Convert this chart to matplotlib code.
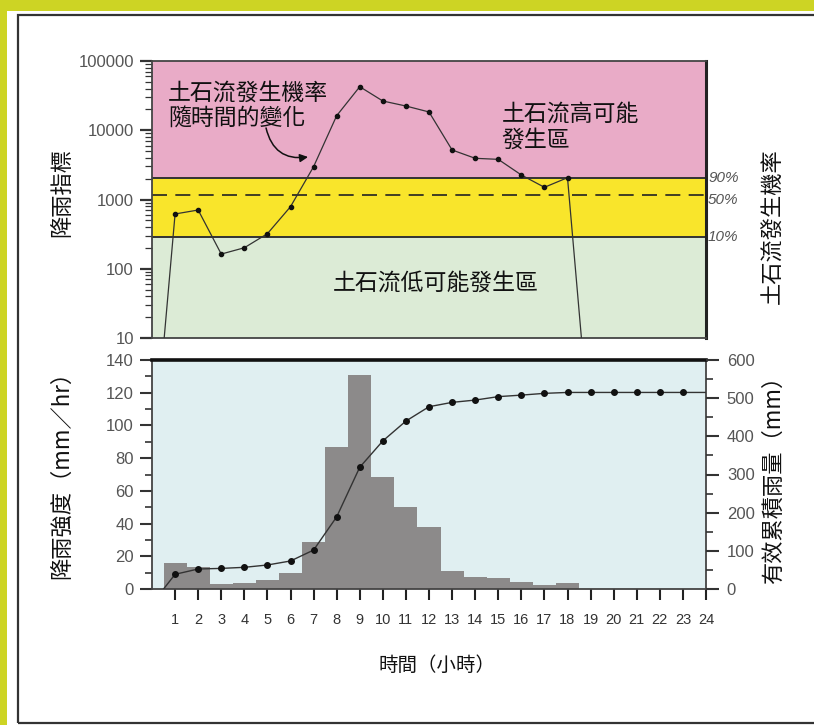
import matplotlib
matplotlib.use("Agg")
import matplotlib.pyplot as plt
import matplotlib.patches as mpatches
import matplotlib.transforms as mtransforms
from matplotlib.ticker import FixedLocator, NullFormatter, LogLocator

CJK = ["Noto Sans CJK TC", "DejaVu Sans"]
NUM = ["Liberation Sans", "DejaVu Sans"]
plt.rcParams["font.family"] = CJK
CJK_WEIGHT = "medium"

# ---- data ----
hours = list(range(1, 25))
hour_labels = [str(h) for h in hours]

# rainfall index (log scale), hourly
index_hours = [0, 1, 2, 3, 4, 5, 6, 7, 8, 9, 10, 11, 12, 13, 14, 15, 16, 17, 18, 19]
index_values = [0.1, 618, 705, 163, 201, 321, 787, 2978, 16220, 42550, 26430,
                22380, 18370, 5190, 3935, 3800, 2260, 1500, 2065, 0.3]

# probability thresholds of the rainfall index
band_90 = 2050
band_50 = 1160
band_10 = 290
band_labels = ["90%", "50%", "10%"]

# hourly rainfall intensity (mm/hr)
intensity = [16, 13.5, 3, 3.5, 5.5, 10, 28.7, 86.6, 130.6, 68.7, 50.3, 37.7,
             11, 7.3, 6.9, 4.5, 2.4, 3.9, 0, 0, 0, 0, 0, 0]

# effective accumulated rainfall (mm)
cum_hours = [0.5] + hours
cum_rain = [0, 38.5, 52.4, 54, 56.8, 62.9, 73.4, 102, 189, 319, 388, 440, 477.6,
            489, 495, 504, 508, 512.6, 515, 515, 515, 515, 515, 515, 515]

# ---- figure and frame ----
W, H = 814, 725
fig = plt.figure(figsize=(W / 100, H / 100), dpi=100)
fig.patch.set_facecolor("#cdd424")
fig.patches.append(mpatches.Rectangle((7 / W, 0), 1, (H - 11) / H,
                                      transform=fig.transFigure,
                                      facecolor="white", edgecolor="none", zorder=-3))
fig.patches.append(mpatches.Rectangle((18 / W, 2 / H), 1, (723 - 15) / H,
                                      transform=fig.transFigure, facecolor="none",
                                      edgecolor="#333333", lw=1.6, zorder=-2))


def px_axes(left, top, right, bottom):
    return fig.add_axes([left / W, 1 - bottom / H, (right - left) / W, (bottom - top) / H])


tick_color = "#555555"
ink = "#111111"

# ---- top panel: rainfall index ----
ax1 = px_axes(152, 61, 706, 338)
ax1.set_yscale("log")
ax1.set_xlim(0, 24)
ax1.set_ylim(10, 100000)
ax1.axhspan(band_90, 100000, color="#e9abc7", zorder=0)
ax1.axhspan(band_10, band_90, color="#f9e52b", zorder=0)
ax1.axhspan(10, band_10, color="#dcebd6", zorder=0)
ax1.axhline(band_90, color="#333333", lw=1.4, zorder=1)
ax1.axhline(band_10, color="#333333", lw=1.4, zorder=1)
ax1.axhline(band_50, color="#222222", lw=1.2, ls=(0, (9, 5)), zorder=1)

ax1.plot(index_hours, index_values, color="#333333", lw=0.9, zorder=3,
         marker="o", ms=3, mfc=ink, mec=ink,
         markevery=list(range(1, len(index_hours) - 1)))

ax1.set_xticks([])
ax1.yaxis.set_major_locator(FixedLocator([10, 100, 1000, 10000, 100000]))
ax1.yaxis.set_minor_locator(LogLocator(base=10, subs=range(2, 10)))
ax1.yaxis.set_minor_formatter(NullFormatter())
ax1.set_yticklabels(["10", "100", "1000", "10000", "100000"])
ax1.tick_params(axis="y", which="major", length=9, width=1.6, color="#333333",
                labelsize=12, labelcolor=tick_color, pad=4)
ax1.tick_params(axis="y", which="minor", length=5, width=0.9, color="#333333")
for lab in ax1.get_yticklabels():
    lab.set_fontfamily(NUM)
for s in ["left", "bottom", "top"]:
    ax1.spines[s].set_color("#444444")
    ax1.spines[s].set_linewidth(1.3)
ax1.spines["right"].set_color("#222222")
ax1.spines["right"].set_linewidth(2.2)

ax1.set_ylabel("降雨指標", fontsize=16, color=ink, weight=CJK_WEIGHT)
ax1.yaxis.set_label_coords(-0.142, 0.527)

ax1.text(0.029, 0.8375, "土石流發生機率\n隨時間的變化", transform=ax1.transAxes,
         fontsize=16.5, ha="left", va="center", linespacing=1.15, color=ink,
         weight=CJK_WEIGHT)
ax1.text(0.631, 0.7606, "土石流高可能\n發生區", transform=ax1.transAxes,
         fontsize=16.5, ha="left", va="center", linespacing=1.15, color=ink,
         weight=CJK_WEIGHT)
ax1.text(0.326, 0.1986, "土石流低可能發生區", transform=ax1.transAxes,
         fontsize=16.5, ha="left", va="center", color=ink, weight=CJK_WEIGHT)
ax1.annotate("", xy=(6.76, 4110), xytext=(4.94, 10790),
             arrowprops=dict(arrowstyle="-|>", color=ink, lw=1.1,
                             connectionstyle="arc3,rad=0.45",
                             mutation_scale=12, shrinkA=0, shrinkB=0))

blend = mtransforms.blended_transform_factory(ax1.transAxes, ax1.transData)
for lab, yv, dy in zip(band_labels, [band_90, band_50, band_10], [0, -5, 0]):
    off = mtransforms.offset_copy(blend, fig=fig, x=2, y=dy, units="dots")
    ax1.text(1.0, yv, lab, transform=off, fontsize=11, style="italic",
             family=NUM, color="#555555", ha="left", va="center")
ax1.text(1.12, 0.405, "土石流發生機率", transform=ax1.transAxes, rotation=90,
         fontsize=16, ha="center", va="center", color=ink, weight=CJK_WEIGHT)

# ---- bottom panel: rainfall intensity and accumulated rainfall ----
ax2 = px_axes(152, 360, 706, 589)
ax2.set_facecolor("#e0eff1")
ax2.bar(hours, intensity, width=1.0, color="#8c8a8a", edgecolor="none", zorder=2)
ax2.set_xlim(0, 24)
ax2.set_ylim(0, 140)
ax2.set_xticks(hours)
ax2.set_xticklabels(hour_labels)
ax2.set_yticks(range(0, 141, 20))
ax2.set_yticks(range(10, 141, 20), minor=True)
ax2.tick_params(axis="x", length=8, width=1.5, color="#222222", labelsize=10.5,
                labelcolor="#333333", pad=9)
ax2.tick_params(axis="y", which="major", length=9, width=1.5, color="#333333",
                labelsize=12, labelcolor=tick_color, pad=4)
ax2.tick_params(axis="y", which="minor", length=5, width=1.2, color="#333333")
for lab in ax2.get_xticklabels() + ax2.get_yticklabels():
    lab.set_fontfamily(NUM)
for s in ["left", "bottom", "right"]:
    ax2.spines[s].set_color("#444444")
    ax2.spines[s].set_linewidth(1.3)
ax2.spines["top"].set_color(ink)
ax2.spines["top"].set_linewidth(2.6)
ax2.set_ylabel("降雨強度（mm／hr）", fontsize=16, color=ink, weight=CJK_WEIGHT)
ax2.yaxis.set_label_coords(-0.142, 0.52)
ax2.set_xlabel("時間（小時）", fontsize=14, color=ink, weight=CJK_WEIGHT)
ax2.xaxis.set_label_coords(0.514, -0.29)

ax3 = ax2.twinx()
ax3.plot(cum_hours, cum_rain, color="#333333", lw=1.0, zorder=3,
         marker="o", ms=4, mfc=ink, mec=ink,
         markevery=list(range(1, len(cum_hours) - 1)))
ax3.set_ylim(0, 600)
ax3.set_yticks(range(0, 601, 100))
ax3.set_yticks(range(50, 601, 100), minor=True)
ax3.tick_params(axis="y", which="major", length=9, width=1.5, color="#333333",
                labelsize=12, labelcolor=tick_color, pad=6)
ax3.tick_params(axis="y", which="minor", length=5, width=1.2, color="#333333")
for lab in ax3.get_yticklabels():
    lab.set_fontfamily(NUM)
for s in ax3.spines.values():
    s.set_visible(False)
ax3.set_ylabel("有效累積雨量（mm）", fontsize=16, color=ink, rotation=90,
               weight=CJK_WEIGHT)
ax3.yaxis.set_label_coords(1.10, 0.50)

fig.savefig("out.png", dpi=100, facecolor=fig.get_facecolor())
